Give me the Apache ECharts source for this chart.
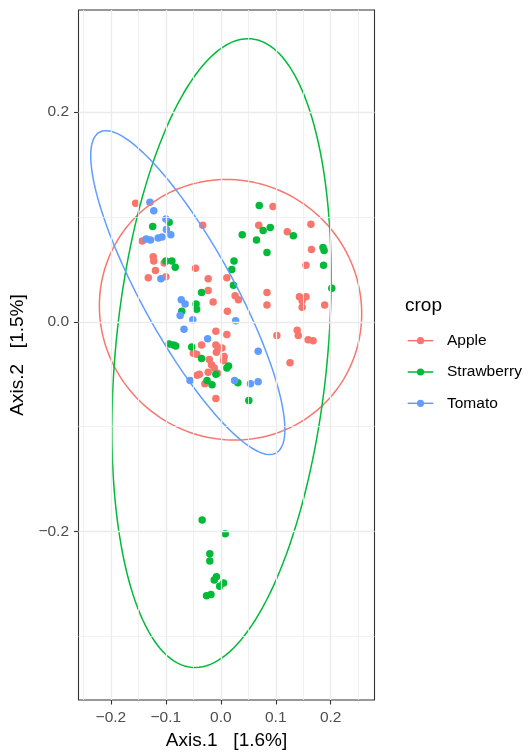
<!DOCTYPE html>
<html><head><meta charset="utf-8">
<script src="https://cdn.jsdelivr.net/npm/echarts@6/dist/echarts.min.js"></script>
<style>html,body{margin:0;padding:0;background:#fff}#c{width:528px;height:755px}</style>
</head><body><div id="c"></div>
<script>
const categories = ['Apple', 'Strawberry', 'Tomato'];
const colors = ['#F8766D', '#00BA38', '#619CFF'];
const legendTitle = 'crop';
const xTitle = 'Axis.1   [1.6%]';
const yTitle = 'Axis.2   [1.5%]';

const appleX = [-0.155,-0.143,-0.033,-0.123,-0.122,-0.103,-0.119,-0.046,-0.132,-0.100,-0.023,0.011,0.095,0.069,0.121,0.164,0.165,0.155,-0.023,-0.014,0.012,-0.009,0.011,-0.035,-0.009,-0.005,0.002,-0.050,-0.044,-0.021,-0.008,0.006,0.005,-0.017,-0.012,-0.006,-0.043,-0.039,-0.023,-0.029,-0.009,0.026,0.032,0.084,0.084,0.143,0.155,0.148,0.148,0.189,0.102,0.139,0.141,0.159,0.168,0.126];
const appleY = [0.113,0.077,0.092,0.062,0.058,0.056,0.049,0.051,0.042,0.043,0.041,0.042,0.110,0.092,0.086,0.093,0.069,0.054,0.030,0.019,0.010,-0.009,-0.012,-0.022,-0.022,-0.025,-0.025,-0.030,-0.031,-0.036,-0.029,-0.033,-0.037,-0.041,-0.044,-0.049,-0.051,-0.050,-0.048,-0.059,-0.073,0.025,0.021,0.028,0.016,0.024,0.024,0.020,0.014,0.016,-0.013,-0.008,-0.013,-0.017,-0.018,-0.039];

const strawberryX = [-0.094,-0.124,-0.100,-0.089,-0.083,0.070,0.077,0.090,0.039,0.065,0.132,0.084,0.186,0.188,0.187,0.024,0.020,0.023,0.202,-0.035,-0.045,-0.044,-0.071,-0.094,-0.086,-0.082,-0.053,-0.035,0.011,0.014,-0.009,-0.025,-0.016,0.031,0.051,-0.034,0.008,-0.020,-0.020,-0.012,-0.008,-0.002,0.005,-0.026,-0.018];
const strawberryY = [0.095,0.091,0.058,0.058,0.052,0.111,0.087,0.090,0.083,0.078,0.082,0.066,0.071,0.068,0.054,0.058,0.050,0.035,0.032,0.028,0.017,0.012,0.010,-0.021,-0.022,-0.023,-0.024,-0.035,-0.044,-0.042,-0.050,-0.056,-0.060,-0.058,-0.075,-0.189,-0.202,-0.221,-0.228,-0.246,-0.243,-0.252,-0.249,-0.261,-0.260];

const tomatoX = [-0.129,-0.122,-0.100,-0.099,-0.091,-0.136,-0.128,-0.114,-0.107,-0.109,-0.072,-0.065,-0.074,-0.051,-0.067,-0.024,-0.056,0.027,0.068,0.025,0.054,0.068];
const tomatoY = [0.114,0.106,0.098,0.088,0.083,0.079,0.078,0.080,0.081,0.041,0.021,0.017,0.006,0.002,-0.007,-0.016,-0.056,0.001,-0.028,-0.056,-0.059,-0.057];

// 95% ellipses: centre and two conjugate semi-axis vectors (data units)
const ellipseCX = [0.0177, 0.0013, -0.0601];
const ellipseCY = [0.0115, -0.0298, 0.0279];
const ellipseUX = [-0.0073, 0.0544, -0.1492];
const ellipseUY = [0.1242, 0.2996, 0.1544];
const ellipseVX = [0.2386, 0.1920, 0.0946];
const ellipseVY = [0, -0.0095, 0];

const xTicks = [-0.2, -0.1, 0, 0.1, 0.2];
const yTicks = [-0.2, 0, 0.2];
const xMinor = [-0.25, -0.15, -0.05, 0.05, 0.15, 0.25];
const yMinor = [-0.3, -0.1, 0.1];
const xRange = [-0.259, 0.2797];
const yRange = [-0.3605, 0.2973];

const FONT = "'Liberation Sans', Arial, Helvetica, sans-serif";
const seriesX = [appleX, strawberryX, tomatoX];
const seriesY = [appleY, strawberryY, tomatoY];

function fmt(v) {
  const s = Math.abs(v).toFixed(1);
  return v < -1e-9 ? '\u2212' + s : s;
}
function ellipse(i) {
  const pts = [];
  const n = 180;
  for (let k = 0; k <= n; k++) {
    const t = 2 * Math.PI * k / n;
    pts.push([
      ellipseCX[i] + ellipseUX[i] * Math.cos(t) + ellipseVX[i] * Math.sin(t),
      ellipseCY[i] + ellipseUY[i] * Math.cos(t) + ellipseVY[i] * Math.sin(t)
    ]);
  }
  return pts;
}

const gridData = [];
xMinor.forEach(v => gridData.push({ xAxis: v, lineStyle: { color: '#EEEEEE', width: 0.8, type: 'solid' } }));
yMinor.forEach(v => gridData.push({ yAxis: v, lineStyle: { color: '#EEEEEE', width: 0.8, type: 'solid' } }));
xTicks.forEach(v => gridData.push({ xAxis: v, lineStyle: { color: '#EBEBEB', width: 1.3, type: 'solid' } }));
yTicks.forEach(v => gridData.push({ yAxis: v, lineStyle: { color: '#EBEBEB', width: 1.3, type: 'solid' } }));

const series = [{
  type: 'line', data: [], z: 1, silent: true,
  markLine: { silent: true, symbol: ['none', 'none'], label: { show: false }, animation: false,
    emphasis: { disabled: true }, data: gridData }
}];
categories.forEach((c, i) => {
  series.push({
    name: c, type: 'scatter', z: 3, symbol: 'circle', symbolSize: 7.5,
    itemStyle: { color: colors[i], opacity: 1 },
    data: seriesX[i].map((x, k) => [x, seriesY[i][k]])
  });
});
categories.forEach((c, i) => {
  series.push({
    name: c, type: 'line', z: 4, showSymbol: false, symbol: 'none', smooth: false,
    lineStyle: { color: colors[i], width: 1.5 },
    data: ellipse(i)
  });
});

// legend (ggplot-style key: line + point)
const graphic = [{
  type: 'text', left: 405, top: 296,
  style: { text: legendTitle, fontSize: 19, fontFamily: FONT, fill: '#000' }
}];
categories.forEach((c, i) => {
  const y = 340.7 + i * 31.3;
  graphic.push({ type: 'line', shape: { x1: 407.7, y1: y, x2: 433.3, y2: y }, style: { stroke: colors[i], lineWidth: 1.5 } });
  graphic.push({ type: 'circle', shape: { cx: 420.5, cy: y, r: 3.6 }, style: { fill: colors[i] } });
  graphic.push({ type: 'text', x: 447, y: y, style: { text: c, fontSize: 15.5, fontFamily: FONT, fill: '#000', verticalAlign: 'middle', align: 'left' } });
});

const chart = echarts.init(document.getElementById('c'), null, { renderer: 'canvas' });
chart.setOption({
  animation: false,
  backgroundColor: '#fff',
  grid: { left: 78.5, right: 153.5, top: 10, bottom: 50.3, show: true, borderColor: '#333333', borderWidth: 1.1, backgroundColor: 'transparent' },
  xAxis: {
    type: 'value', min: xRange[0], max: xRange[1],
    name: xTitle, nameLocation: 'middle', nameGap: 31,
    nameTextStyle: { fontSize: 19, fontFamily: FONT, color: '#000' },
    axisLine: { show: false, onZero: false },
    axisTick: { show: true, customValues: xTicks, length: 4.5, lineStyle: { color: '#333333', width: 1.1 } },
    axisLabel: { customValues: xTicks, formatter: fmt, margin: 9.5, fontSize: 15.5, fontFamily: FONT, color: '#4D4D4D' },
    splitLine: { show: false }
  },
  yAxis: {
    type: 'value', min: yRange[0], max: yRange[1],
    name: yTitle, nameLocation: 'middle', nameGap: 39,
    nameTextStyle: { fontSize: 19, fontFamily: FONT, color: '#000' },
    axisLine: { show: false, onZero: false },
    axisTick: { show: true, customValues: yTicks, length: 4.5, lineStyle: { color: '#333333', width: 1.1 } },
    axisLabel: { customValues: yTicks, formatter: fmt, margin: 9.5, fontSize: 15.5, fontFamily: FONT, color: '#4D4D4D' },
    splitLine: { show: false }
  },
  graphic: graphic,
  series: series
});
</script></body></html>
